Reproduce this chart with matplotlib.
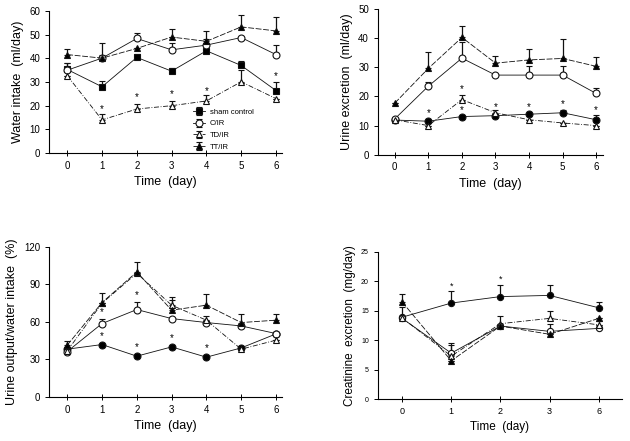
import numpy as np
import matplotlib.pyplot as plt

plt.rcParams['font.family'] = ['Liberation Sans', 'DejaVu Sans']

days = [0, 1, 2, 3, 4, 5, 6]
groups = ["sham control", "C/IR", "TD/IR", "TT/IR"]

# Water intake (ml/day)
wi_sham = [35.3, 28, 40.4, 34.6, 43.2, 37, 26.4]
wi_sham_err = [2.8, 2.4, 1.5, 1.2, 0.5, 1.8, 3.8]
wi_cir = [35, 40.1, 48.4, 43.6, 45.6, 48.8, 41.6]
wi_cir_err = [3, 1.5, 2.2, 2.8, 2.5, 0, 4]
wi_td = [32.7, 14, 18.6, 20, 22, 30.1, 23]
wi_td_err = [0, 2.5, 2.2, 2, 2.5, 4.8, 0]
wi_tt = [41.6, 40.1, 44.2, 49, 47.2, 53.3, 51.6]
wi_tt_err = [2.4, 6.6, 0, 3.6, 4.3, 5.2, 6]
wi_stars = [(1, 18.5), (2, 23.5), (3, 25), (4, 26.3), (6, 32.5)]

# Urine excretion (ml/day)
ue_sham = [11.9, 11.5, 13.1, 13.4, 13.9, 14.4, 12]
ue_sham_err = [0, 0, 0, 0, 0, 1.1, 1.5]
ue_cir = [12.3, 23.5, 33.1, 27.3, 27.3, 27.3, 21]
ue_cir_err = [0, 1.5, 5.5, 0, 3.2, 3.2, 1.9]
ue_td = [12, 10, 18.9, 14.4, 12, 10.9, 10]
ue_td_err = [0, 0, 1.6, 0.8, 0, 0, 0]
ue_tt = [17.7, 29.6, 40.2, 31.4, 32.5, 33, 30.3]
ue_tt_err = [0, 5.5, 4, 2.6, 3.8, 6.5, 3.3]
ue_stars = [(1, 14.3), (2, 15.3), (2, 22.5), (3, 16.3), (4, 16.3), (5, 17.3), (6, 15.3)]

# Urine output / water intake (%)
uo_sham = [38.2, 41.9, 32.6, 40, 31.8, 39.2, 50.4]
uo_cir = [36.3, 58.7, 69.9, 62.7, 59.5, 56.8, 50.7]
uo_cir_err = [0, 3.5, 6, 0, 0, 0, 0]
uo_td = [36.8, 75, 99, 73.4, 61.4, 38.2, 45.4]
uo_td_err = [0, 0, 0, 4, 3, 2, 0]
uo_tt = [41.4, 75.5, 100, 69.4, 73.4, 59.5, 61.4]
uo_tt_err = [3.6, 8, 8, 10.6, 8.6, 7.2, 4.6]
uo_stars = [(1, 68), (1, 48.5), (2, 81.4), (2, 39.5), (3, 46.7), (4, 39.2)]

# Creatinine excretion (mg/day)
cr_labels = ["0", "1", "2", "3", "6"]
cr_sham = [13.9, 16.3, 17.4, 17.6, 15.5]
cr_sham_err = [0, 2, 2, 1.7, 0.9]
cr_cir = [13.7, 7.8, 12.4, 11.5, 12]
cr_cir_err = [1.9, 1.4, 0, 1.2, 0.5]
cr_td = [13.8, 7.3, 12.8, 13.7, 12.6]
cr_td_err = [0, 2.2, 1.3, 1.3, 0.6]
cr_tt = [16.5, 6.5, 12.4, 11, 13.7]
cr_tt_err = [1.4, 0, 0, 0, 0]
cr_stars = [(1, 19.2), (2, 20.3)]

styles = {
    "sham control": dict(marker="s", mfc="black", ls="-"),
    "C/IR": dict(marker="o", mfc="white", ls="-"),
    "TD/IR": dict(marker="^", mfc="white", ls=(0, (6, 2, 1, 2))),
    "TT/IR": dict(marker="^", mfc="black", ls=(0, (7, 2))),
}


def draw(ax, x, series, errs, sham_marker="s", ms=5):
    for g, y, e in zip(groups, series, errs):
        st = dict(styles[g])
        if g == "sham control":
            st["marker"] = sham_marker
        if e is None:
            e = [0] * len(y)
        ax.errorbar(x, y, yerr=[np.zeros(len(y)), e], color="#111111", lw=0.6,
                    elinewidth=0.9, capsize=2.5, capthick=0.9,
                    marker=st["marker"], mfc=st["mfc"], mec="#111111", mew=0.8,
                    ms=ms, ls=st["ls"], label=g)


def style(ax, ylabel, fs_tick=7, fs_lab=9):
    ax.spines["top"].set_visible(False)
    ax.spines["right"].set_visible(False)
    ax.tick_params(axis="y", direction="out", length=3, width=0.7, labelsize=fs_tick)
    ax.tick_params(axis="x", direction="inout", length=4, width=0.7, labelsize=fs_tick)
    ax.set_xlabel("Time  (day)", fontsize=fs_lab)
    ax.set_ylabel(ylabel, fontsize=fs_lab)


fig = plt.figure(figsize=(6.3, 4.41), dpi=100)

ax1 = fig.add_axes([0.078, 0.653, 0.37, 0.322])
draw(ax1, days, [wi_sham, wi_cir, wi_td, wi_tt],
     [wi_sham_err, wi_cir_err, wi_td_err, wi_tt_err])
for x, y in wi_stars:
    ax1.text(x, y, "*", ha="center", va="center", fontsize=7)
ax1.set_xlim(-0.52, 6.18)
ax1.set_ylim(0, 60)
ax1.set_xticks(days)
ax1.set_yticks([0, 10, 20, 30, 40, 50, 60])
style(ax1, "Water intake  (ml/day)")
ax1.legend(loc="upper left", bbox_to_anchor=(0.6, 0.34), frameon=False,
           fontsize=5.5, handlelength=1.6, labelspacing=0.55, borderpad=0,
           handletextpad=0.6)

ax2 = fig.add_axes([0.6, 0.649, 0.357, 0.331])
draw(ax2, days, [ue_sham, ue_cir, ue_td, ue_tt],
     [ue_sham_err, ue_cir_err, ue_td_err, ue_tt_err], sham_marker="o")
for x, y in ue_stars:
    ax2.text(x, y, "*", ha="center", va="center", fontsize=7)
ax2.set_xlim(-0.5, 6.2)
ax2.set_ylim(0, 50)
ax2.set_xticks(days)
ax2.set_yticks([0, 10, 20, 30, 40, 50])
style(ax2, "Urine excretion  (ml/day)")

ax3 = fig.add_axes([0.078, 0.1, 0.37, 0.34])
draw(ax3, days, [uo_sham, uo_cir, uo_td, uo_tt],
     [None, uo_cir_err, uo_td_err, uo_tt_err], sham_marker="o")
for x, y in uo_stars:
    ax3.text(x, y, "*", ha="center", va="center", fontsize=7)
ax3.set_xlim(-0.52, 6.18)
ax3.set_ylim(0, 120)
ax3.set_xticks(days)
ax3.set_yticks([0, 30, 60, 90, 120])
style(ax3, "Urine output/water intake  (%)")

ax4 = fig.add_axes([0.6, 0.095, 0.387, 0.334])
xc = np.arange(len(cr_labels))
draw(ax4, xc, [cr_sham, cr_cir, cr_td, cr_tt],
     [cr_sham_err, cr_cir_err, cr_td_err, cr_tt_err], sham_marker="o", ms=4.5)
for x, y in cr_stars:
    ax4.text(x, y, "*", ha="center", va="center", fontsize=6.5)
ax4.set_xlim(-0.49, 4.47)
ax4.set_ylim(0, 25)
ax4.set_xticks(xc)
ax4.set_xticklabels(cr_labels)
ax4.set_yticks([0, 5, 10, 15, 20, 25])
style(ax4, "Creatinine  excretion  (mg/day)", fs_tick=6.5, fs_lab=8.5)
ax4.tick_params(axis="y", labelsize=5)

fig.savefig("out.png", dpi=100)
